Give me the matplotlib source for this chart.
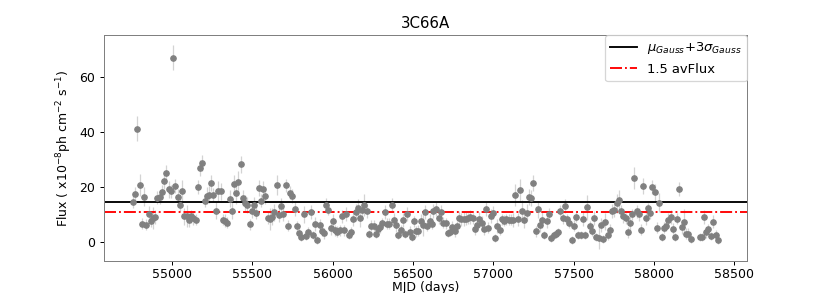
import numpy as np
import matplotlib
matplotlib.use('Agg')
import matplotlib.pyplot as plt


# light curve of 3C66A
mjd = [54757, 54770, 54782, 54799, 54811, 54826, 54840, 54857, 54869, 54884,
       54894, 54908, 54923, 54938, 54950, 54965, 54979, 54994, 55006, 55021,
       55035, 55050, 55064, 55077, 55092, 55106, 55120, 55133, 55148, 55162,
       55174, 55189, 55204, 55218, 55232, 55245, 55257,
       55276, 55288, 55303, 55318, 55330, 55344, 55359, 55372, 55386, 55400,
       55413, 55428, 55442, 55455, 55469, 55484, 55496, 55511, 55525, 55540,
       55554, 55569, 55581, 55596, 55608, 55623, 55637, 55652, 55666, 55681,
       55693, 55708, 55722, 55735, 55749, 55764, 55778, 55791, 55805, 55820,
       55834, 55849, 55864, 55878, 55890, 55905, 55920, 55932,
       55946, 55961, 55973, 55988, 56003, 56015, 56029, 56044, 56059, 56073,
       56085, 56100, 56115, 56129, 56144, 56156, 56171, 56185, 56197, 56212,
       56227, 56241, 56256, 56268, 56283, 56297, 56310, 56324, 56339, 56353,
       56368, 56382, 56395, 56409, 56424, 56438, 56451, 56465, 56480, 56493,
       56507, 56521, 56534, 56549, 56563, 56577, 56590, 56605, 56617, 56627,
       56646, 56661, 56675, 56689, 56704, 56717, 56731, 56745, 56760, 56775,
       56787, 56801, 56816, 56831, 56843, 56858, 56872, 56887, 56899, 56914,
       56928, 56941, 56955, 56970, 56985, 56997, 57011, 57026, 57041, 57053,
       57067, 57082, 57097, 57111, 57123, 57138, 57153, 57165, 57179, 57194,
       57209, 57223, 57235, 57250, 57265, 57279, 57293, 57306, 57316,
       57333, 57348, 57362, 57377, 57391, 57404, 57418, 57433, 57447, 57460,
       57474, 57489, 57503, 57516, 57530, 57545, 57559, 57572, 57586, 57601,
       57615, 57630, 57642, 57657, 57671, 57684, 57698, 57713, 57727, 57740,
       57754, 57769, 57782, 57796, 57810, 57825, 57838, 57852, 57866, 57879,
       57894, 57908, 57922, 57935, 57950, 57964, 57977, 57989,
       58008, 58020, 58034, 58049, 58064, 58078, 58090, 58105, 58120, 58132,
       58147, 58159, 58174, 58188, 58201, 58215, 58230, 58286, 58300, 58313,
       58327, 58340, 58356, 58371, 58386, 58398]

flux = [14.6, 17.4, 41.2, 20.6, 6.6, 16.4, 6.2, 10.1, 7.7, 8.5,
        9.1, 16.1, 16.2, 18.2, 22.1, 25.1, 19.1, 18.3, 67.2, 20.2,
        16.2, 13.5, 18.6, 9.2, 9.2, 7.9, 9.2, 8.6, 7.9, 20.0,
        26.8, 28.8, 15.0, 16.8, 17.2, 21.3, 17.2,
        11.3, 18.5, 18.3, 7.9, 7.7, 6.9, 15.7, 11.3, 21.0, 17.9,
        21.7, 28.2, 16.0, 14.0, 13.3, 6.4, 11.3, 13.4, 10.6, 19.5,
        15.0, 19.1, 16.8, 8.8, 8.3, 9.1, 10.7, 20.7, 9.6, 12.9,
        10.1, 20.5, 5.8, 17.9, 16.6, 11.8, 5.7, 3.1, 1.8, 9.9,
        2.2, 3.4, 10.8, 2.5, 6.4, 0.7, 5.9, 4.0,
        3.0, 13.5, 11.7, 5.0, 7.4, 4.2, 3.6, 4.2, 9.2, 4.2,
        10.1, 2.4, 3.4, 8.3, 10.7, 12.4, 8.5, 11.6, 13.4, 11.1,
        2.7, 5.8, 5.8, 2.7, 4.5, 5.3, 6.8, 10.8, 6.6, 6.6,
        13.5, 8.0, 6.1, 2.3, 4.1, 7.9, 2.8, 10.1, 3.6, 1.6,
        7.4, 3.7, 4.0, 7.7, 6.2, 10.7, 5.8, 7.7, 6.6, 11.2,
        11.8, 8.6, 10.8, 6.9, 6.7, 3.1, 3.6, 5.5, 3.8, 5.7,
        8.6, 8.1, 8.3, 8.4, 8.6, 9.1, 8.6, 4.5, 6.1, 8.3,
        6.7, 4.5, 12.0, 5.0, 9.4, 10.6, 1.2, 5.8, 4.4, 8.1,
        7.7, 8.1, 7.9, 8.0, 7.8, 16.9, 8.1, 18.8, 11.1, 7.9,
        10.6, 16.2, 16.0, 21.3, 3.8, 11.8, 6.1, 7.9, 2.4,
        7.5, 9.9, 1.4, 2.5, 2.8, 3.4, 11.2, 8.6, 12.9, 8.1,
        6.9, 0.6, 5.8, 9.1, 2.5, 2.4, 8.3, 2.4, 12.5, 5.6,
        4.0, 8.6, 1.8, 1.3, 6.1, 1.0, 7.3, 2.5, 4.4, 11.3,
        11.6, 14.0, 15.2, 11.0, 9.2, 8.6, 3.4, 6.8, 10.0, 23.3,
        11.0, 9.9, 4.3, 20.3, 8.6, 12.2, 10.6, 19.9,
        18.0, 5.1, 14.2, 1.6, 5.0, 5.8, 7.9, 9.1, 4.7, 1.7,
        8.3, 19.1, 5.2, 7.0, 2.9, 2.9, 1.0, 1.6, 1.6, 8.9,
        3.4, 4.6, 2.1, 7.3, 2.4, 0.6]

flux_err = [2.5, 2.5, 4.5, 4.0, 2.0, 3.5, 2.0, 3.0, 2.5, 4.0,
            2.5, 2.5, 2.5, 2.5, 3.0, 3.0, 3.0, 2.5, 4.5, 2.5,
            3.0, 2.5, 4.0, 3.0, 4.0, 2.5, 2.5, 2.5, 2.0, 2.5,
            3.0, 3.0, 2.5, 3.0, 3.0, 3.0, 2.5,
            3.0, 3.5, 3.0, 2.0, 2.5, 2.0, 3.0, 3.0, 3.5, 4.0,
            4.0, 3.0, 3.0, 3.0, 3.0, 2.0, 2.5, 3.0, 2.5, 3.0,
            2.5, 3.0, 3.0, 2.5, 4.0, 3.0, 3.0, 3.5, 2.5, 3.0,
            2.5, 2.5, 2.0, 2.5, 2.5, 2.5, 2.0, 2.0, 1.5, 3.0,
            1.5, 2.0, 2.5, 1.5, 2.5, 1.5, 2.5, 2.0,
            2.0, 2.5, 2.0, 2.5, 2.5, 2.0, 2.0, 2.0, 2.5, 2.0,
            2.5, 1.5, 2.0, 2.5, 3.0, 3.0, 3.0, 2.5, 4.0, 2.5,
            1.5, 2.0, 2.0, 1.5, 2.0, 2.0, 2.0, 2.5, 2.0, 2.0,
            2.5, 2.5, 2.5, 1.5, 2.0, 2.5, 1.5, 2.5, 2.0, 1.5,
            2.0, 2.0, 2.0, 2.5, 4.0, 2.5, 2.0, 2.5, 2.0, 2.5,
            2.5, 2.0, 2.5, 2.0, 2.0, 1.5, 1.5, 2.0, 2.0, 2.0,
            2.5, 2.5, 2.5, 2.5, 2.0, 2.5, 2.0, 2.0, 2.0, 2.5,
            2.5, 2.0, 2.5, 2.0, 2.5, 2.5, 1.5, 2.5, 2.0, 2.0,
            2.0, 2.0, 2.0, 2.0, 2.5, 4.0, 2.5, 4.0, 4.0, 3.0,
            3.0, 3.0, 3.0, 3.0, 2.0, 3.0, 2.5, 3.0, 1.5,
            2.5, 2.5, 1.5, 1.5, 1.5, 1.5, 2.0, 2.0, 2.5, 2.0,
            2.0, 1.5, 2.0, 2.0, 1.5, 1.5, 2.5, 1.5, 4.5, 2.0,
            2.0, 2.5, 1.5, 4.0, 2.5, 1.5, 3.0, 2.0, 2.0, 2.5,
            2.5, 3.5, 3.5, 2.5, 2.5, 2.0, 2.0, 2.5, 2.0, 4.0,
            2.5, 2.5, 2.0, 3.0, 2.5, 2.0, 2.5, 2.5,
            3.0, 2.0, 3.5, 1.5, 2.0, 2.0, 2.5, 2.5, 2.0, 1.5,
            2.0, 2.5, 2.5, 5.0, 2.0, 2.0, 1.5, 1.5, 1.5, 2.5,
            2.0, 2.0, 1.5, 2.5, 2.0, 1.5]

gauss_lim = 14.4
av_lim = 10.7
yticks = [0, 20, 40, 60]

fig, ax = plt.subplots(figsize=(830/90, 293/90), dpi=90)
ax.errorbar(mjd, flux, yerr=flux_err, fmt='o', color='gray', ecolor='lightgray',
            ms=4.3, elinewidth=1)
ax.axhline(gauss_lim, color='k', label=r'$\mu_{Gauss}$+3$\sigma_{Gauss}$')
ax.axhline(av_lim, color='r', ls='-.', label='1.5 avFlux')
ax.set_ylim(-7, 75.4)
ax.set_yticks(yticks)
ax.tick_params(axis='x', pad=2)
ax.set_title('3C66A')
ax.set_xlabel('MJD (days)', labelpad=0)
ax.set_ylabel(r'Flux ( x10$^{-8}$ph cm$^{-2}$ s$^{-1}$)')
ax.legend(loc='upper right', borderaxespad=0, fontsize=10.5)
for s in ax.spines.values():
    s.set_color('gray')
plt.savefig('out.png', dpi=90)
